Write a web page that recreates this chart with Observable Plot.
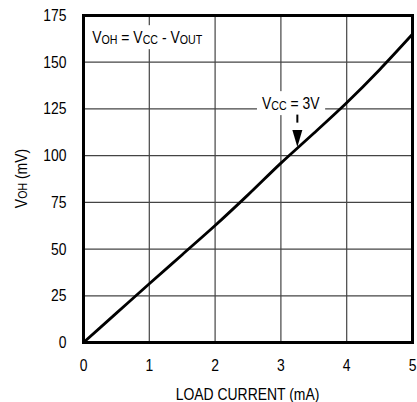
<!DOCTYPE html>
<html>
<head>
<meta charset="utf-8">
<script src="https://cdn.jsdelivr.net/npm/d3@7"></script>
<script src="https://cdn.jsdelivr.net/npm/@observablehq/plot@0.6"></script>
<style>
  html, body { margin: 0; padding: 0; background: #fff; }
  #chart svg { display: block; }
</style>
</head>
<body>
<div id="chart"></div>
<script>
// Load current (mA) and V_OH (mV)
const current = [0, 0.5, 1, 1.5, 2, 2.5, 3, 3.5, 4, 4.5, 5];
const voh     = [0, 15.7, 31.4, 47, 62.6, 79, 96, 112, 128.3, 146, 165];

const xTicks = [0, 1, 2, 3, 4, 5];
const yTicks = [0, 25, 50, 75, 100, 125, 150, 175];

const xLabel = "LOAD CURRENT (mA)";
const yLabelParts = [["V", false], ["OH", true], [" (mV)", false]];
const formulaParts = [["V", false], ["OH", true], [" = V", false], ["CC", true], [" - V", false], ["OUT", true]];
const vccParts = [["V", false], ["CC", true], [" = 3V", false]];

// annotation anchors (data units)
const formulaPos = {x: 0.14, y: 163.5};
const vccPos = {x: 2.72, y: 128.2};
const arrowX = 3.25, arrowTop = 121.7, arrowBase = 117.4, arrowTip = 104.6;

const curve = current.map((c, i) => ({c, v: voh[i]}));

const FONT = '"Liberation Sans", Arial, sans-serif';
const SQUEEZE = 0.82;

const arrowHead = {
  draw(ctx) {
    ctx.moveTo(0, 0);
    ctx.lineTo(-5, -17);
    ctx.lineTo(5, -17);
    ctx.closePath();
  }
};

const chart = Plot.plot({
  width: 417,
  height: 402,
  marginLeft: 83,
  marginRight: 5,
  marginTop: 15,
  marginBottom: 60,
  style: {fontFamily: FONT, fontSize: "17px", color: "black", background: "white"},
  x: {domain: [0, 5]},
  y: {domain: [0, 175]},
  marks: [
    Plot.gridX(xTicks, {stroke: "#444", strokeOpacity: 1, strokeWidth: 1.2}),
    Plot.gridY(yTicks, {stroke: "#444", strokeOpacity: 1, strokeWidth: 1.2}),
    Plot.axisX(xTicks, {tickSize: 0, tickPadding: 16, label: null, fontSize: 17}),
    Plot.axisY(yTicks, {tickSize: 0, tickPadding: 17, label: null, fontSize: 17}),
    Plot.line(curve, {x: "c", y: "v", stroke: "black", strokeWidth: 2.8, curve: "monotone-x"}),
    Plot.ruleX([arrowX], {y1: arrowTop, y2: arrowBase, stroke: "black", strokeWidth: 2}),
    Plot.dot([{x: arrowX, y: arrowTip}], {x: "x", y: "y", symbol: arrowHead, fill: "black", stroke: "none"}),
    Plot.frame({stroke: "black", strokeWidth: 3})
  ]
});

document.getElementById("chart").appendChild(chart);

const sx = chart.scale("x"), sy = chart.scale("y");
const svg = d3.select(chart);

// text placed at (x,y), horizontally condensed (reference uses a condensed face)
function richText(g, x, y, parts, opts = {}) {
  const rot = opts.rotate ? ` rotate(${opts.rotate})` : "";
  const t = g.append("text")
    .attr("transform", `translate(${x},${y})${rot} scale(${SQUEEZE},1)`)
    .attr("font-family", FONT)
    .attr("font-size", opts.size || 17)
    .attr("text-anchor", opts.anchor || "start")
    .attr("dominant-baseline", "central")
    .attr("fill", "black");
  let shifted = false;
  parts.forEach(([s, isSub]) => {
    const ts = t.append("tspan").text(s);
    if (isSub && !shifted) { ts.attr("dy", 3).attr("font-size", 13); shifted = true; }
    else if (isSub) { ts.attr("font-size", 13); }
    else if (shifted) { ts.attr("dy", -3); shifted = false; }
  });
  return t;
}

const bgLayer = svg.insert("g", 'g[aria-label="line"]');
const textLayer = svg.append("g");

function label(px, py, parts, padX) {
  const bg = bgLayer.append("rect").attr("fill", "white");
  const t = richText(textLayer, px, py, parts);
  const bb = t.node().getBBox();
  const w = bb.width * SQUEEZE;
  bg.attr("x", px + bb.x * SQUEEZE - padX).attr("y", py + bb.y - 2)
    .attr("width", w + 2 * padX).attr("height", bb.height + 4);
}

// condense the tick labels about their anchor points
svg.selectAll('g[aria-label="x-axis tick label"] text, g[aria-label="y-axis tick label"] text')
  .each(function() {
    const tr = this.getAttribute("transform") || "";
    this.setAttribute("transform", `${tr} scale(${SQUEEZE},1)`);
  });

label(sx.apply(formulaPos.x), sy.apply(formulaPos.y), formulaParts, 4);
label(sx.apply(vccPos.x), sy.apply(vccPos.y), vccParts, 5);

// axis titles
const r = sx.range, rr = sy.range;
richText(textLayer, (r[0] + r[1]) / 2, 393, [[xLabel, false]], {anchor: "middle"});
const cy = (rr[0] + rr[1]) / 2;
richText(textLayer, 20, cy, yLabelParts, {anchor: "middle", rotate: -90});
</script>
</body>
</html>
